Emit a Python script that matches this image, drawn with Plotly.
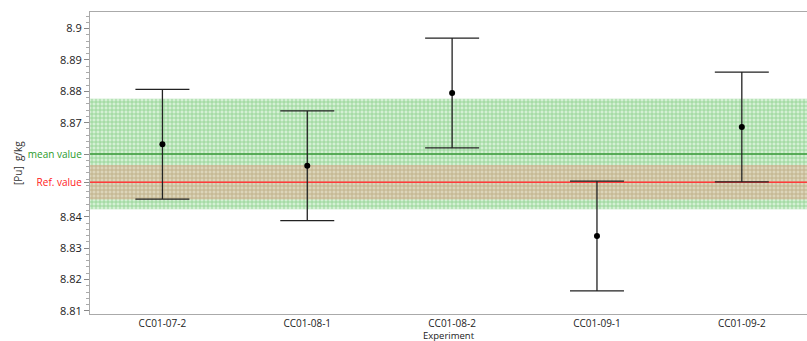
import plotly.graph_objects as go

experiments = ["CC01-07-2", "CC01-08-1", "CC01-08-2", "CC01-09-1", "CC01-09-2"]
pu_values = [8.8631, 8.8563, 8.8795, 8.8339, 8.8686]
pu_uncert = [0.0175, 0.0175, 0.0175, 0.0175, 0.0175]

mean_value = 8.8600
mean_uncert = 0.0176
ref_value = 8.8510
ref_uncert = 0.0055

major_ticks = [8.81, 8.82, 8.83, 8.84, 8.87, 8.88, 8.89, 8.90]
major_labels = ["8.81", "8.82", "8.83", "8.84", "8.87", "8.88", "8.89", "8.9"]

x_range = [-0.5, 4.45]
y_range = [8.8090, 8.9053]

fig = go.Figure()

xi = list(range(len(experiments)))
xb = [x_range[0], x_range[1], x_range[1], x_range[0], x_range[0]]

# mean-value uncertainty band (green hatch)
fig.add_trace(go.Scatter(
    x=xb,
    y=[mean_value - mean_uncert] * 2 + [mean_value + mean_uncert] * 2 + [mean_value - mean_uncert],
    fill="toself", mode="lines", line=dict(width=0),
    fillpattern=dict(shape="+", size=4, solidity=0.4,
                     fgcolor="rgba(55,170,55,0.85)", bgcolor="rgba(205,238,205,0.85)"),
    hoverinfo="skip", showlegend=False))

# reference-value uncertainty band (red hatch)
fig.add_trace(go.Scatter(
    x=xb,
    y=[ref_value - ref_uncert] * 2 + [ref_value + ref_uncert] * 2 + [ref_value - ref_uncert],
    fill="toself", mode="lines", line=dict(width=0),
    fillpattern=dict(shape="+", size=4, solidity=0.35,
                     fgcolor="rgba(215,110,90,0.55)", bgcolor="rgba(230,180,155,0.45)"),
    hoverinfo="skip", showlegend=False))

# mean line
fig.add_trace(go.Scatter(x=x_range, y=[mean_value] * 2, mode="lines",
                         line=dict(color="#3a9a3a", width=1.5),
                         hoverinfo="skip", showlegend=False))
# ref line
fig.add_trace(go.Scatter(x=x_range, y=[ref_value] * 2, mode="lines",
                         line=dict(color="#ff3b3b", width=1.5),
                         hoverinfo="skip", showlegend=False))

# measurements
fig.add_trace(go.Scatter(
    x=xi, y=pu_values, mode="markers",
    marker=dict(color="black", size=6),
    error_y=dict(type="data", array=pu_uncert, color="#222222", thickness=1.3, width=27),
    showlegend=False))

tickvals = major_ticks[:4] + [ref_value, mean_value] + major_ticks[4:]
ticktext = (major_labels[:4]
            + ["<span style='color:#ff2020;font-size:10px'>Ref. value</span>",
               "<span style='color:#2a9a2a;font-size:10px'>mean value</span>"]
            + major_labels[4:])

fig.update_layout(
    width=807, height=341,
    margin=dict(l=90, r=0, t=12, b=27),
    plot_bgcolor="white", paper_bgcolor="white",
    font=dict(family="Open Sans, DejaVu Sans, sans-serif", color="#333333"),
    xaxis=dict(
        range=x_range, tickmode="array", tickvals=xi, ticktext=experiments,
        showgrid=False, zeroline=False, showline=True, linecolor="#aaaaaa",
        linewidth=1, mirror=True, ticks="", ticklen=0, automargin=False,
        ticklabelstandoff=0,
        tickfont=dict(size=10, color="#222222"),
    ),
    yaxis=dict(
        range=y_range, tickmode="array", tickvals=tickvals, ticktext=ticktext,
        showgrid=False, zeroline=False, showline=True, linecolor="#aaaaaa",
        linewidth=1, mirror=True, ticks="outside", ticklen=5, tickcolor="#888888",
        automargin=False,
        tickfont=dict(size=11, color="#222222"),
        minor=dict(ticks="outside", ticklen=3, tickcolor="#aaaaaa", dtick=0.002,
                   tick0=8.80, showgrid=False),
    ),
    annotations=[
        dict(text="Experiment", xref="paper", yref="paper", x=0.5, y=0,
             yshift=-21, yanchor="middle", showarrow=False,
             font=dict(size=9.5, color="#222222")),
        dict(text="[Pu]  g/kg", xref="paper", yref="paper", x=0, y=0.5,
             xshift=-72, xanchor="center", textangle=-90, showarrow=False,
             font=dict(size=10, color="#333333")),
    ],
)

fig.write_html("out.html", config={"displayModeBar": False},
               post_script="document.body.style.margin='0';document.body.style.overflow='hidden';")
